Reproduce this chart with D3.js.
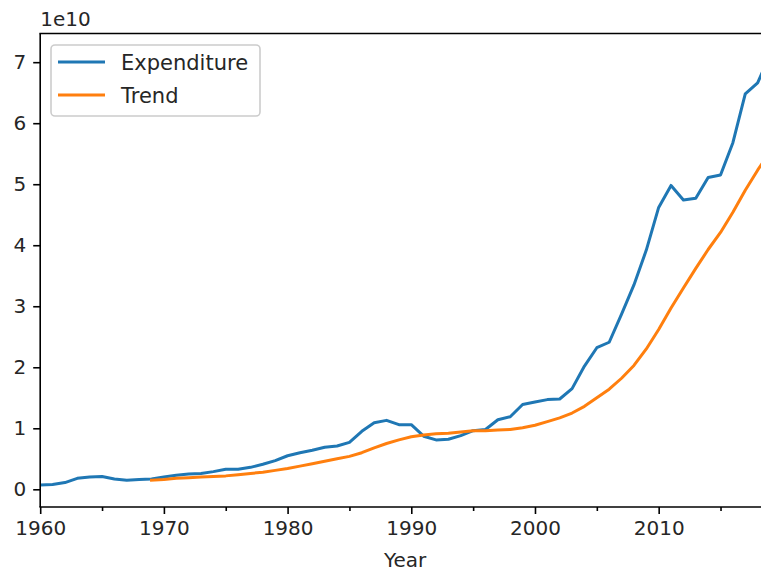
<!DOCTYPE html>
<html>
<head>
<meta charset="utf-8">
<script src="https://cdn.jsdelivr.net/npm/d3@7"></script>
<style>
html,body{margin:0;padding:0;background:#fff;}
svg{display:block;}
text{font-family:"DejaVu Sans",sans-serif;fill:#262626;}
</style>
</head>
<body>
<svg id="chart" width="761" height="574"></svg>
<script>
// Years 1960..2019
const years = d3.range(1960, 2020);
// Expenditure (units of 1e10)
const expenditure = [
  0.07,0.08,0.11,0.18,0.20,0.21,0.17,0.15,0.16,0.17,
  0.20,0.23,0.25,0.26,0.29,0.33,0.33,0.36,0.41,0.47,
  0.55,0.60,0.64,0.69,0.71,0.77,0.95,1.09,1.13,1.06,
  1.06,0.87,0.81,0.82,0.88,0.96,0.98,1.14,1.19,1.39,
  1.43,1.47,1.48,1.65,2.02,2.32,2.41,2.87,3.35,3.92,
  4.62,4.98,4.74,4.77,5.11,5.15,5.68,6.48,6.66,7.12
];
// Trend (units of 1e10), null before 1969
const trend = [
  null,null,null,null,null,null,null,null,null,0.15,
  0.16,0.18,0.19,0.20,0.21,0.22,0.24,0.26,0.28,0.31,
  0.34,0.38,0.42,0.46,0.50,0.54,0.60,0.68,0.75,0.81,
  0.86,0.89,0.91,0.92,0.94,0.96,0.96,0.97,0.98,1.01,
  1.05,1.11,1.17,1.25,1.36,1.50,1.64,1.82,2.03,2.30,
  2.62,2.97,3.30,3.62,3.93,4.21,4.54,4.90,5.23,5.53
];
const xMajor = [1960,1970,1980,1990,2000,2010];
const xMinor = [1965,1975,1985,1995,2005,2015];
const yTicks = [0,1,2,3,4,5,6,7];
const seriesNames = ["Expenditure","Trend"];
const colors = ["#1f77b4","#ff7f0e"];

const L = 40.2, R = 770, T = 33.5, B = 507;
const svg = d3.select("#chart");
const x = d3.scaleLinear().domain([1960, 2019]).range([L, R]);
const y = d3.scaleLinear().domain([-0.29, 7.47]).range([B, T]);

svg.append("defs").append("clipPath").attr("id","clip")
  .append("rect").attr("x",L).attr("y",T).attr("width",R-L).attr("height",B-T);

const line = d3.line()
  .defined(d => d[1] != null)
  .x(d => x(d[0])).y(d => y(d[1]));

const g = svg.append("g").attr("clip-path","url(#clip)");
[expenditure, trend].forEach((s, i) => {
  g.append("path")
    .datum(years.map((yr, j) => [yr, s[j]]))
    .attr("fill","none")
    .attr("stroke",colors[i])
    .attr("stroke-width",3)
    .attr("stroke-linejoin","round")
    .attr("stroke-linecap","square")
    .attr("d", line);
});

// Axes
const xAxis = d3.axisBottom(x).tickValues(xMajor).tickFormat(d3.format("d")).tickSize(7).tickPadding(7);
const xg = svg.append("g").attr("transform",`translate(0,${B})`).call(xAxis);
const xMinorAxis = d3.axisBottom(x).tickValues(xMinor).tickFormat("").tickSize(4);
const xmg = svg.append("g").attr("transform",`translate(0,${B})`).call(xMinorAxis);
const yAxis = d3.axisLeft(y).tickValues(yTicks).tickFormat(d3.format("d")).tickSize(7).tickPadding(7);
const yg = svg.append("g").attr("transform",`translate(${L},0)`).call(yAxis);

[xg, xmg, yg].forEach(a => {
  a.select(".domain").remove();
  a.selectAll(".tick line").attr("stroke","#000").attr("stroke-width",1.6);
  a.selectAll(".tick text").attr("font-size",20).attr("fill","#262626")
    .style("font-family","DejaVu Sans, sans-serif");
});

// Spines
svg.append("line").attr("x1",L).attr("x2",L).attr("y1",T).attr("y2",B).attr("stroke","#000").attr("stroke-width",1.6);
svg.append("line").attr("x1",L-0.8).attr("x2",R).attr("y1",B).attr("y2",B).attr("stroke","#000").attr("stroke-width",1.6);
svg.append("line").attr("x1",L-0.8).attr("x2",R).attr("y1",T).attr("y2",T).attr("stroke","#000").attr("stroke-width",1.6);

// Offset text & label
svg.append("text").attr("x",L).attr("y",26).attr("font-size",20).text("1e10");
svg.append("text").attr("x",(L+R)/2).attr("y",567).attr("text-anchor","middle").attr("font-size",20).text("Year");

// Legend
const lg = svg.append("g");
lg.append("rect").attr("x",51).attr("y",45).attr("width",209).attr("height",71)
  .attr("rx",4).attr("fill","#fff").attr("fill-opacity",0.8)
  .attr("stroke","#cccccc").attr("stroke-width",1.6);
seriesNames.forEach((n, i) => {
  const cy = 62 + i * 33;
  lg.append("line").attr("x1",58).attr("x2",105).attr("y1",cy).attr("y2",cy)
    .attr("stroke",colors[i]).attr("stroke-width",3);
  lg.append("text").attr("x",121).attr("y",cy+7.5).attr("font-size",21).text(n);
});
</script>
</body>
</html>
